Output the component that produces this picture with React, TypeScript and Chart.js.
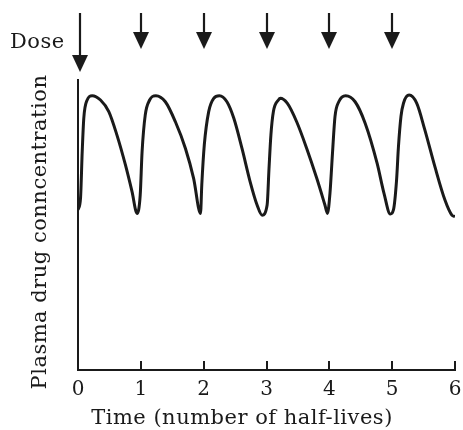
import React, { useEffect, useRef } from "react";
import { Chart, registerables } from "chart.js";

Chart.register(...registerables);

// Time (number of half-lives)
const timeValues = [
  0, 0.04, 0.067, 0.092, 0.146, 0.226, 0.358, 0.49, 0.62, 0.755, 0.86, 0.94,
  0.99, 1.02, 1.07, 1.14, 1.24, 1.39, 1.55, 1.71, 1.84, 1.95,
  1.97, 2.01, 2.08, 2.16, 2.25, 2.37, 2.48, 2.61, 2.74, 2.85, 2.93,
  3.01, 3.04, 3.07, 3.11, 3.19, 3.22, 3.33, 3.48, 3.64, 3.8, 3.93, 3.97,
  4.01, 4.05, 4.09, 4.15, 4.26, 4.41, 4.57, 4.76, 4.87, 4.97,
  5.02, 5.07, 5.1, 5.14, 5.18, 5.27, 5.39, 5.52, 5.68, 5.84, 5.95, 6.0,
];
// Plasma drug concentration (relative units)
const concentrationValues = [
  55.2, 59.2, 75.3, 86.8, 93.1, 94.6, 93.1, 89.1, 81.0, 70.7, 61.5, 54.0,
  60.3, 75.3, 87.9, 93.1, 94.6, 92.5, 85.6, 76.4, 66.1, 54.0,
  63.8, 77.6, 89.1, 93.7, 94.6, 92.5, 86.8, 76.4, 64.9, 56.9, 53.4,
  56.9, 69.5, 81.0, 89.1, 93.1, 93.7, 92.0, 85.6, 76.4, 66.1, 56.9, 54.0,
  60.9, 74.7, 87.4, 92.5, 94.6, 92.5, 85.1, 71.3, 60.9, 53.8,
  55.2, 65.5, 77.0, 87.4, 92.0, 94.8, 92.0, 82.8, 70.1, 58.6, 53.4, 52.9,
];
const doseTimes = [0, 1, 2, 3, 4, 5];
const xTickValues = [0, 1, 2, 3, 4, 5, 6];
const doseLabel = "Dose";
const xTitle = "Time (number of half-lives)";
const yTitle = "Plasma drug conncentration";

const FONT = "DejaVu Serif";
const INK = "#1a1a1a";

const decorPlugin = {
  id: "decor",
  afterDraw(chart: any) {
    const { ctx, chartArea } = chart;
    const xs = chart.scales.x;
    ctx.save();
    ctx.strokeStyle = INK;
    ctx.fillStyle = INK;
    // inward tick marks
    ctx.lineWidth = 2;
    xTickValues.forEach((v) => {
      const x = Math.round(xs.getPixelForValue(v));
      ctx.beginPath();
      ctx.moveTo(x, chartArea.bottom);
      ctx.lineTo(x, chartArea.bottom - 9);
      ctx.stroke();
    });
    // dose arrows
    doseTimes.forEach((t, i) => {
      const x = Math.round(xs.getPixelForValue(t)) + (i === 0 ? 2 : 0);
      const top = 13;
      const headTop = i === 0 ? 55 : 32;
      const tip = i === 0 ? 72 : 49;
      ctx.lineWidth = 2.2;
      ctx.beginPath();
      ctx.moveTo(x, top);
      ctx.lineTo(x, headTop + 3);
      ctx.stroke();
      ctx.beginPath();
      ctx.moveTo(x - 8, headTop);
      ctx.lineTo(x + 8, headTop);
      ctx.lineTo(x, tip);
      ctx.closePath();
      ctx.fill();
    });
    // texts
    ctx.font = `21px "${FONT}"`;
    (ctx as any).letterSpacing = "0.5px";
    ctx.textAlign = "left";
    ctx.textBaseline = "alphabetic";
    ctx.fillText(doseLabel, 10, 48);
    ctx.textAlign = "center";
    ctx.fillText(xTitle, 242, 424);
    ctx.translate(46, 232);
    ctx.rotate(-Math.PI / 2);
    ctx.fillText(yTitle, 0, 0);
    ctx.restore();
  },
};

export default function App() {
  const ref = useRef<HTMLCanvasElement>(null);
  useEffect(() => {
    const canvas = ref.current!;
    const chart = new Chart(canvas, {
      type: "line",
      data: {
        datasets: [
          {
            data: timeValues.map((t, i) => ({ x: t, y: concentrationValues[i] })),
            borderColor: INK,
            borderWidth: 3,
            pointRadius: 0,
            cubicInterpolationMode: "monotone",
            fill: false,
          },
        ],
      },
      options: {
        responsive: false,
        animation: false,
        events: [],
        layout: { padding: { top: 80, right: 8, left: 0, bottom: 0 } },
        plugins: { legend: { display: false }, tooltip: { enabled: false } },
        scales: {
          x: {
            type: "linear",
            min: 0,
            max: 6,
            afterFit: (s: any) => {
              s.height = 60;
              s.paddingLeft = 0;
              s.paddingRight = 0;
            },
            afterBuildTicks: (s: any) => {
              s.ticks = xTickValues.map((v) => ({ value: v }));
            },
            grid: { display: false, drawTicks: false },
            border: { display: true, color: INK, width: 2 },
            ticks: {
              color: INK,
              padding: 8,
              font: { family: FONT, size: 20 },
            },
          },
          y: {
            type: "linear",
            min: 0,
            max: 100,
            afterFit: (s: any) => {
              s.width = 78;
              s.paddingTop = 0;
              s.paddingBottom = 0;
            },
            grid: { display: false, drawTicks: false },
            border: { display: true, color: INK, width: 2 },
            ticks: { display: false },
          },
        },
      },
      plugins: [decorPlugin],
    } as any);
    return () => chart.destroy();
  }, []);
  return (
    <div style={{ position: "absolute", left: 0, top: 0, width: 463, height: 430 }}>
      <canvas ref={ref} width={463} height={430} />
    </div>
  );
}
